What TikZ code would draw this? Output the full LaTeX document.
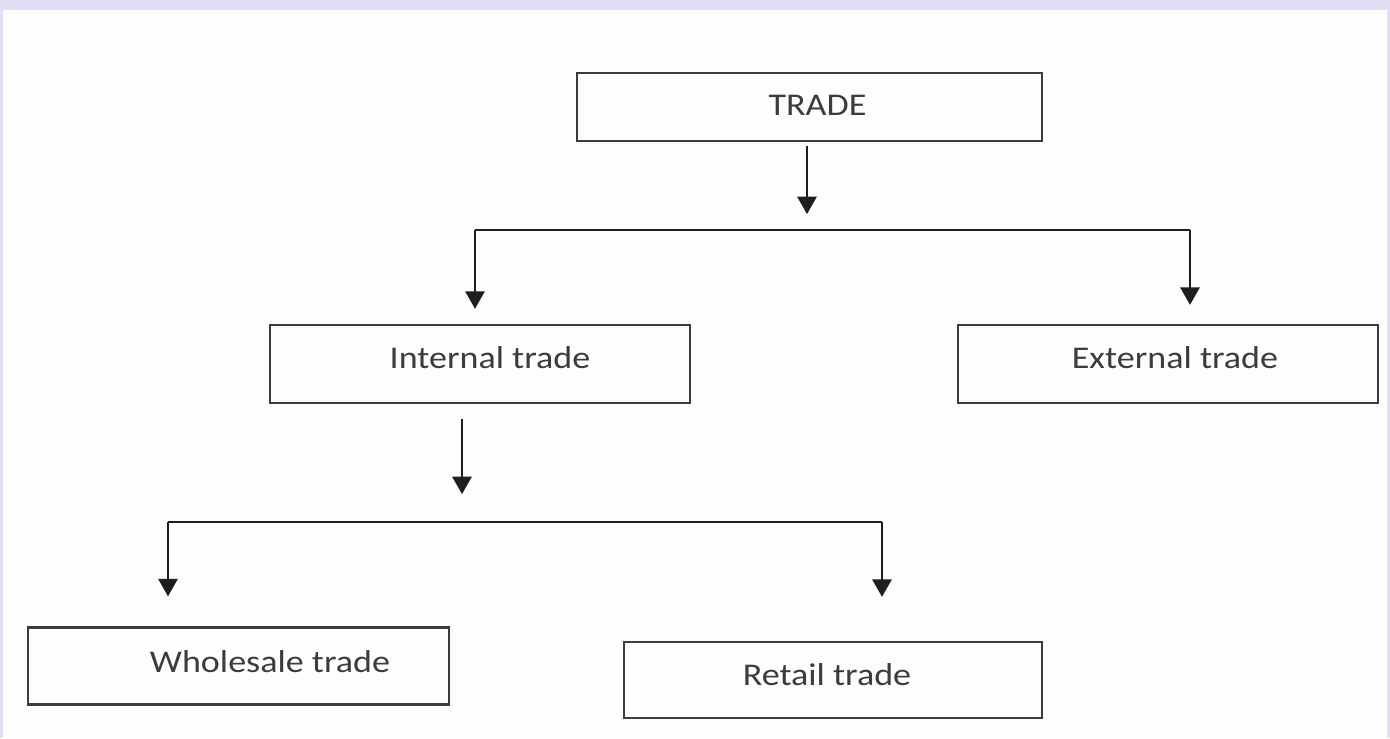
\documentclass[tikz,border=0pt]{standalone}
\usepackage{fontspec}
\setmainfont[FakeStretch=1.14]{Carlito}
\usetikzlibrary{arrows.meta}
\definecolor{framebg}{HTML}{E4DDF8}
\definecolor{panelbg}{HTML}{FCFDFC}
\definecolor{inkgray}{HTML}{3C3C3C}
\definecolor{arrowink}{HTML}{1E1E1E}

\begin{document}
\begin{tikzpicture}[x=0.02cm, y=-0.02cm, >={Triangle[width=11pt,length=10pt]},
  box/.style={draw=inkgray, line width=1.3pt, inner sep=0pt, text=inkgray, font=\fontsize{18}{22}\selectfont},
  conn/.style={line width=1.2pt, draw=arrowink}]
  % frame
  \fill[framebg] (0,0) rectangle (1390,738);
  \fill[panelbg] (3,10) rectangle (1387,738);

  \node[box, minimum width=9.3cm, minimum height=1.36cm, text depth=0.08cm] (trade) at (809.5,107) {\hspace*{0.32cm}TRADE};
  \node[box, minimum width=8.4cm, minimum height=1.56cm, text depth=0.24cm] (internal) at (480,364) {\hspace*{0.4cm}Internal trade};
  \node[box, minimum width=8.4cm, minimum height=1.56cm, text depth=0.24cm] (external) at (1168,364) {\hspace*{0.28cm}External trade};
  \node[box, minimum width=8.42cm, minimum height=1.54cm, text depth=0.16cm] (wholesale) at (238.5,666) {\hspace*{1.26cm}Wholesale trade};
  \node[box, minimum width=8.36cm, minimum height=1.52cm, text depth=0.2cm] (retail) at (833,680) {Retail trade\hspace*{0.24cm}};

  % first split
  \coordinate (fork1l) at (475,230);
  \coordinate (fork1r) at (1190,230);
  \draw[conn, ->, shorten <=0.08cm] ([xshift=-0.05cm]trade.south) -- ++(0,72);
  \draw[conn] (fork1l) -- (fork1r);
  \draw[conn, ->, shorten >=0.3cm] (fork1l) -- (fork1l |- internal.north);
  \draw[conn, ->, shorten >=0.38cm] (fork1r) -- (fork1r |- external.north);

  % second split
  \coordinate (fork2l) at (168,522);
  \coordinate (fork2r) at (882,522);
  \draw[conn, ->, shorten <=0.3cm] ([xshift=-0.36cm]internal.south) -- ++(0,90);
  \draw[conn] (fork2l) -- (fork2r);
  \draw[conn, ->, shorten >=0.6cm] (fork2l) -- (fork2l |- wholesale.north);
  \draw[conn, ->, shorten >=0.88cm] (fork2r) -- (fork2r |- retail.north);
\end{tikzpicture}
\end{document}
